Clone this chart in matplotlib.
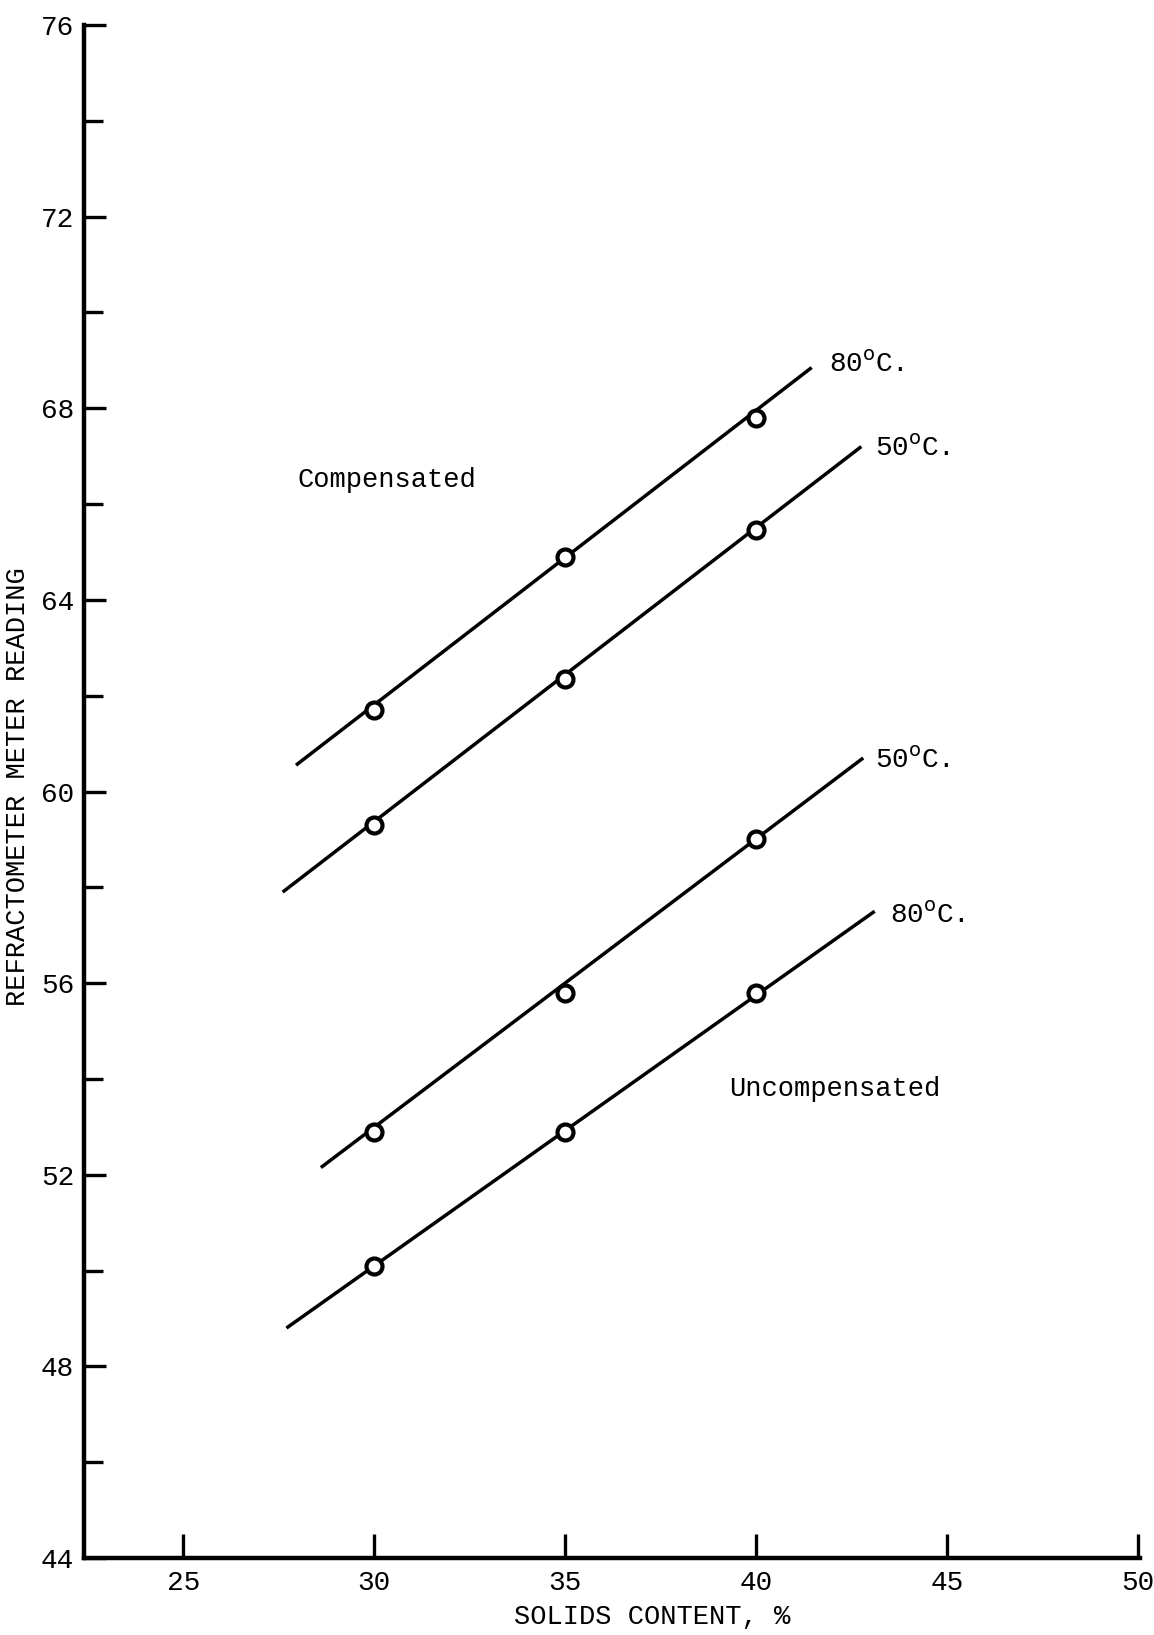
import numpy as np
import matplotlib.pyplot as plt

plt.rcParams['font.family'] = ['Liberation Mono', 'DejaVu Sans Mono']

# measured points (solids %, meter reading)
solids = [30, 35, 40]
comp_80 = [61.7, 64.9, 67.8]
comp_50 = [59.3, 62.35, 65.45]
uncomp_50 = [52.9, 55.8, 59.0]
uncomp_80 = [50.1, 52.9, 55.8]

# drawn fit lines (x start, x end), (y start, y end)
fit_x = {'comp_80': [27.95, 41.45], 'comp_50': [27.6, 42.75],
         'uncomp_50': [28.6, 42.8], 'uncomp_80': [27.7, 43.1]}
fit_y = {'comp_80': [60.55, 68.85], 'comp_50': [57.9, 67.2],
         'uncomp_50': [52.15, 60.7], 'uncomp_80': [48.8, 57.5]}

labels = {'comp_80': (41.9, 68.9, '80$^{\\rm o}$C.'),
          'comp_50': (43.1, 67.15, '50$^{\\rm o}$C.'),
          'uncomp_50': (43.1, 60.65, '50$^{\\rm o}$C.'),
          'uncomp_80': (43.5, 57.4, '80$^{\\rm o}$C.')}

series = {'comp_80': comp_80, 'comp_50': comp_50,
          'uncomp_50': uncomp_50, 'uncomp_80': uncomp_80}

x_ticks = [25, 30, 35, 40, 45, 50]
y_major = [44, 48, 52, 56, 60, 64, 68, 72, 76]
y_minor = [46, 50, 54, 58, 62, 66, 70, 74]

fig = plt.figure(figsize=(11.54, 16.35), dpi=100)
ax = fig.add_axes([0.0728, 0.0471, 0.9152, 0.9376])

for key, vals in series.items():
    ax.plot(fit_x[key], fit_y[key], color='black', lw=2.5, solid_capstyle='butt')
    ax.plot(solids, vals, 'o', ms=11.5, mfc='white', mec='black', mew=3)
    lx, ly, txt = labels[key]
    ax.text(lx, ly, txt, fontsize=20, ha='left', va='center')

ax.text(28.0, 66.5, 'Compensated', fontsize=19.5, ha='left', va='center')
ax.text(39.3, 53.8, 'Uncompensated', fontsize=19.5, ha='left', va='center')

ax.set_xlim(22.4, 50.05)
ax.set_ylim(44, 76)
ax.set_xticks(x_ticks)
ax.set_yticks(y_major)
ax.set_yticks(y_minor, minor=True)
ax.tick_params(axis='both', which='both', direction='in', width=2.4, labelsize=20)
ax.tick_params(axis='y', which='major', length=16, pad=7)
ax.tick_params(axis='y', which='minor', length=14)
ax.tick_params(axis='x', which='major', length=17, pad=9)
for t in ax.xaxis.get_major_ticks() + ax.yaxis.get_major_ticks():
    t.tick1line.set_clip_on(False)

ax.spines['top'].set_visible(False)
ax.spines['right'].set_visible(False)
ax.spines['left'].set_linewidth(3.2)
ax.spines['bottom'].set_linewidth(3.2)

ax.set_xlabel('SOLIDS CONTENT, %', fontsize=19.5)
ax.xaxis.set_label_coords(0.538, -0.030)
ax.set_ylabel('REFRACTOMETER METER READING', fontsize=19.5)
ax.yaxis.set_label_coords(-0.050, 0.503)

fig.savefig('out.png', dpi=100, facecolor='white')
